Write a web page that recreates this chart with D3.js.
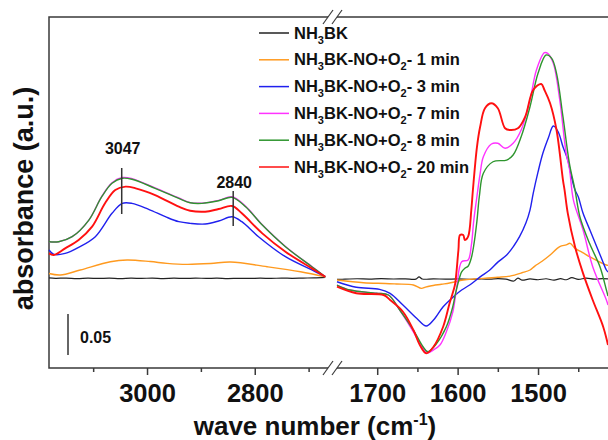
<!DOCTYPE html>
<html>
<head>
<meta charset="utf-8">
<script src="https://cdn.jsdelivr.net/npm/d3@7"></script>
<style>
  body { margin: 0; background: #fff; }
  text { font-family: "Liberation Sans", Arial, sans-serif; font-weight: bold; fill: #111; }
</style>
</head>
<body>
<div class="container"></div>
<script>
// data: [wave number, absorbance]
// ==============================
var seriesNames = ["NH3BK", "1 min", "3 min", "7 min", "8 min", "20 min"];
var seriesColors = ["#222222", "#ff9a1f", "#2020ee", "#ff33ff", "#2e952e", "#ff1010"];
var seriesWidths = [1.2, 1.4, 1.4, 1.4, 1.4, 1.9];

var blackLeft = [[3182,0.0008],[3170,0.0003],[3150,0.0006],[3130,-0.0002],[3110,0.0004],[3090,0.0001],[3070,0.0005],[3050,-0.0001],[3030,0.0004],[3010,0.0002],[2990,0.0005],[2970,0],[2950,0.0004],[2930,0.0001],[2910,0.0005],[2890,0.0002],[2870,0.0004],[2850,-0.0001],[2830,0.0003],[2810,0.0001],[2790,0.0004],[2770,0.0002],[2750,0.0005],[2730,0.0003],[2710,0.0006],[2690,0.0008],[2669,0.0015]];
var blackRight = [[1750,-0.001],[1740,-0.0008],[1725,-0.0003],[1710,-0.0007],[1695,-0.0002],[1680,-0.0006],[1665,-0.0004],[1652,-0.0008],[1648,0.002],[1644,-0.0006],[1630,-0.0004],[1615,-0.0008],[1600,-0.0005],[1585,-0.0009],[1570,-0.0004],[1560,-0.0008],[1550,-0.0002],[1540,-0.0007],[1530,-0.003],[1525,0.0005],[1520,-0.002],[1510,-0.0005],[1500,-0.0015],[1490,-0.0003],[1480,-0.002],[1472,-0.0002],[1465,-0.0015],[1458,0.001],[1450,-0.001],[1440,0.0005],[1430,-0.0008],[1420,0],[1413,-0.0005]];

var orangeLeft = [[3182,0.0061],[3161,0.0043],[3124,0.0104],[3068,0.0205],[3037,0.0226],[2994,0.0207],[2963,0.0185],[2926,0.0173],[2882,0.0183],[2845,0.0201],[2777,0.0144],[2715,0.0083],[2669,0.0022]];
var orangeRight = [[1750,-0.0018],[1717,-0.0051],[1690,-0.006],[1676,-0.0067],[1655,-0.0079],[1645,-0.012],[1640,-0.0105],[1634,-0.0091],[1620,-0.007],[1610,-0.0055],[1593,-0.0018],[1580,-0.0005],[1568,0.0002],[1550,0.0015],[1535,0.003],[1520,0.007],[1510,0.0104],[1504,0.0152],[1495,0.021],[1485,0.0287],[1473,0.0388],[1465,0.041],[1460,0.0429],[1454,0.0368],[1445,0.032],[1436,0.0266],[1425,0.021],[1415,0.0165],[1413,0.016]];

var blueLeft = [[3182,0.0348],[3173,0.0295],[3152,0.0307],[3127,0.038],[3096,0.051],[3065,0.0795],[3046,0.0917],[3028,0.0917],[2997,0.0844],[2966,0.0754],[2941,0.0693],[2920,0.0673],[2892,0.0665],[2867,0.0701],[2842,0.0754],[2824,0.0693],[2793,0.051],[2743,0.0266],[2694,0.0104],[2669,0.0022]];
var blueRight = [[1750,-0.0039],[1726,-0.0107],[1697,-0.0132],[1684,-0.018],[1668,-0.0323],[1651,-0.0485],[1639,-0.0579],[1630,-0.0506],[1618,-0.0344],[1605,-0.022],[1595,-0.014],[1585,-0.0079],[1572,0.002],[1560,0.0104],[1550,0.02],[1539,0.0287],[1530,0.04],[1523,0.051],[1515,0.068],[1510,0.0835],[1506,0.1039],[1500,0.13],[1494,0.1527],[1487,0.172],[1481,0.186],[1475,0.179],[1469,0.1607],[1463,0.1445],[1458,0.122],[1454,0.1079],[1450,0.0998],[1444,0.0795],[1435,0.058],[1427,0.0388],[1420,0.022],[1415,0.0104],[1413,0.008]];

var magentaLeft = [[3182,0.0449],[3164,0.0449],[3139,0.051],[3108,0.0713],[3084,0.1003],[3065,0.1168],[3046,0.1232],[3028,0.1218],[2985,0.1105],[2941,0.0982],[2920,0.0926],[2898,0.0919],[2867,0.0953],[2842,0.0997],[2817,0.088],[2786,0.0655],[2743,0.039],[2694,0.0145],[2669,0.0022]];
var magentaRight = [[1750,-0.0079],[1734,-0.014],[1701,-0.018],[1686,-0.0201],[1672,-0.0384],[1655,-0.065],[1643,-0.085],[1637,-0.0905],[1630,-0.087],[1622,-0.0811],[1614,-0.065],[1606,-0.041],[1601,-0.01],[1595,0.0205],[1587,0.0226],[1583,0.04],[1580,0.07],[1576,0.1],[1572,0.128],[1568,0.1485],[1558,0.164],[1550,0.1649],[1541,0.1588],[1531,0.1649],[1521,0.1811],[1510,0.2177],[1502,0.2543],[1492,0.2754],[1488,0.2746],[1481,0.2624],[1473,0.2177],[1465,0.1527],[1461,0.1344],[1456,0.0957],[1444,0.0591],[1432,0.0144],[1415,-0.0262],[1413,-0.0323]];

var greenLeft = [[3182,0.0449],[3164,0.0449],[3139,0.051],[3108,0.0713],[3084,0.0998],[3065,0.1161],[3046,0.1222],[3028,0.121],[2985,0.11],[2941,0.0978],[2920,0.0924],[2898,0.0917],[2867,0.0949],[2842,0.099],[2817,0.0876],[2786,0.0652],[2743,0.0388],[2694,0.0144],[2669,0.0022]];
var greenRight = [[1750,-0.0079],[1734,-0.014],[1701,-0.018],[1686,-0.0201],[1672,-0.0384],[1655,-0.0628],[1643,-0.0832],[1637,-0.0893],[1626,-0.079],[1614,-0.0588],[1606,-0.0344],[1603,-0.02],[1599,-0.004],[1595,0.008],[1591,0.0125],[1587,0.015],[1583,0.025],[1580,0.04],[1576,0.07],[1573,0.1],[1568,0.1283],[1556,0.1424],[1539,0.1445],[1531,0.1506],[1521,0.1729],[1510,0.2095],[1500,0.2502],[1490,0.2726],[1483,0.2685],[1477,0.2502],[1469,0.1973],[1461,0.1405],[1454,0.1079],[1448,0.0754],[1436,0.0429],[1423,0.0144],[1415,-0.014],[1413,-0.0213]];

var redLeft = [[3182,0.0307],[3173,0.0287],[3152,0.0368],[3127,0.047],[3102,0.0632],[3078,0.0917],[3059,0.1079],[3040,0.112],[3021,0.11],[2985,0.1018],[2941,0.0876],[2920,0.0827],[2892,0.0815],[2867,0.0848],[2842,0.0884],[2824,0.0795],[2786,0.0551],[2743,0.0327],[2694,0.0124],[2669,0.0022]];
var redRight = [[1750,-0.01],[1726,-0.018],[1692,-0.0201],[1684,-0.0262],[1668,-0.0405],[1655,-0.0628],[1647,-0.0811],[1639,-0.0912],[1630,-0.0832],[1618,-0.0588],[1610,-0.0302],[1605,-0.014],[1603,-0.0059],[1599,0.0348],[1597,0.053],[1593,0.053],[1591,0.047],[1587,0.051],[1583,0.0835],[1581,0.1079],[1576,0.16],[1572,0.185],[1566,0.2076],[1558,0.2137],[1550,0.2076],[1541,0.1832],[1535,0.1811],[1525,0.1832],[1516,0.1973],[1506,0.2299],[1496,0.2372],[1492,0.2299],[1485,0.2137],[1477,0.1811],[1469,0.1201],[1467,0.1079],[1463,0.0795],[1454,0.0388],[1444,0.0063],[1432,-0.0262],[1419,-0.0588],[1413,-0.0811]];

var leftSeries = [blackLeft, orangeLeft, blueLeft, magentaLeft, greenLeft, redLeft];
var rightSeries = [blackRight, orangeRight, blueRight, magentaRight, greenRight, redRight];

// ticks and peak labels
var leftMajor = [3000, 2800];
var leftMinor = [3100, 2900, 2700];
var rightMajor = [1700, 1600, 1500];
var rightMinor = [1650, 1550, 1450];
var peaks = [3047, 2840];

// svg container
var svgWidth = 608;
var svgHeight = 440;
var frame = { left: 49, top: 17, bottom: 368, right: 608, breakL: 328, breakR: 337 };

var svg = d3.select(".container")
  .append("svg")
  .attr("width", svgWidth)
  .attr("height", svgHeight);

// scales
// ==============================
var xLeft = d3.scaleLinear().domain([3182, 2664]).range([frame.left, frame.breakL]);
var xRight = d3.scaleLinear().domain([1750, 1413]).range([frame.breakR, frame.right]);
var yScale = d3.scaleLinear().domain([-0.1091, 0.3189]).range([frame.bottom, frame.top]);

// frame
// ==============================
var frameColor = "#3a3a3a";
var frameGroup = svg.append("g").attr("stroke", frameColor).attr("stroke-width", 1.5).attr("fill", "none");
frameGroup.append("path")
  .attr("d", `M${frame.breakL},${frame.top}H${frame.left}V${frame.bottom}H${frame.breakL}`);
frameGroup.append("path")
  .attr("d", `M${frame.breakR},${frame.top}H${frame.right + 2}M${frame.breakR},${frame.bottom}H${frame.right + 2}`);
[frame.top, frame.bottom].forEach(function(yy) {
  [frame.breakL, frame.breakR].forEach(function(xx) {
    frameGroup.append("line")
      .attr("x1", xx - 5).attr("y1", yy + 7)
      .attr("x2", xx + 5).attr("y2", yy - 7)
      .attr("stroke-width", 1.2);
  });
});

// axes
// ==============================
function drawAxis(scale, major, minor) {
  var g = svg.append("g").attr("transform", `translate(0, ${frame.bottom})`);
  g.call(d3.axisBottom(scale).tickValues(major).tickSize(7).tickFormat(d3.format("d")));
  g.call(function(a) { a.select(".domain").remove(); });
  g.selectAll("line").attr("stroke", frameColor).attr("stroke-width", 1.5);
  g.selectAll("text")
    .attr("y", 33.7).attr("dy", null)
    .style("font-size", "25.5px").style("font-weight", "bold")
    .attr("fill", "#111");
  var m = svg.append("g").attr("transform", `translate(0, ${frame.bottom})`);
  m.call(d3.axisBottom(scale).tickValues(minor).tickSize(4).tickFormat(""));
  m.select(".domain").remove();
  m.selectAll("line").attr("stroke", frameColor).attr("stroke-width", 1.5);
}
drawAxis(xLeft, leftMajor, leftMinor);
drawAxis(xRight, rightMajor, rightMinor);

// curves
// ==============================
var lineLeft = d3.line().x(d => xLeft(d[0])).y(d => yScale(d[1])).curve(d3.curveCatmullRom.alpha(0.5));
var lineRight = d3.line().x(d => xRight(d[0])).y(d => yScale(d[1])).curve(d3.curveCatmullRom.alpha(0.5));

leftSeries.forEach(function(s, i) {
  svg.append("path").datum(s)
    .attr("d", lineLeft)
    .attr("fill", "none")
    .attr("stroke", seriesColors[i])
    .attr("stroke-width", seriesWidths[i])
    .attr("stroke-linejoin", "round");
});
rightSeries.forEach(function(s, i) {
  svg.append("path").datum(s)
    .attr("d", lineRight)
    .attr("fill", "none")
    .attr("stroke", seriesColors[i])
    .attr("stroke-width", seriesWidths[i])
    .attr("stroke-linejoin", "round");
});

// peak markers
// ==============================
var peakTop = [0.1348, 0.1067];
var peakBottom = [0.0787, 0.064];
var peakText = [0.1518, 0.1104];
peaks.forEach(function(p, i) {
  svg.append("line")
    .attr("x1", xLeft(p)).attr("x2", xLeft(p))
    .attr("y1", yScale(peakTop[i])).attr("y2", yScale(peakBottom[i]))
    .attr("stroke", "#333").attr("stroke-width", 1.5);
  svg.append("text")
    .attr("x", xLeft(p) + 1)
    .attr("y", yScale(peakText[i]))
    .attr("text-anchor", "middle")
    .style("font-size", "16px")
    .text(p);
});

// scale bar 0.05
var barTop = yScale(-0.0433);
var barLen = yScale(0) - yScale(0.05);
svg.append("line")
  .attr("x1", 68).attr("x2", 68)
  .attr("y1", barTop).attr("y2", barTop + barLen)
  .attr("stroke", "#333").attr("stroke-width", 1.5);
svg.append("text")
  .attr("x", 80).attr("y", 343)
  .style("font-size", "16px")
  .text("0.05");

// legend
// ==============================
var legend = svg.append("g");
seriesNames.forEach(function(name, i) {
  var ly = 33 + i * 26.8;
  legend.append("line")
    .attr("x1", 259).attr("x2", 289)
    .attr("y1", ly).attr("y2", ly)
    .attr("stroke", seriesColors[i])
    .attr("stroke-width", 1.5);
  var t = legend.append("text")
    .attr("x", 294).attr("y", ly + 5.5)
    .style("font-size", "16.5px");
  t.append("tspan").text("NH");
  t.append("tspan").attr("dy", 5).style("font-size", "11px").text("3");
  if (i === 0) {
    t.append("tspan").attr("dy", -5).text("BK");
  } else {
    t.append("tspan").attr("dy", -5).text("BK-NO+O");
    t.append("tspan").attr("dy", 5).style("font-size", "11px").text("2");
    t.append("tspan").attr("dy", -5).text("- " + name);
  }
});

// axis titles
// ==============================
var xTitle = svg.append("text")
  .attr("x", 315).attr("y", 435)
  .attr("text-anchor", "middle")
  .style("font-size", "26px");
xTitle.append("tspan").text("wave number (cm");
xTitle.append("tspan").attr("dy", -10).style("font-size", "16px").text("-1");
xTitle.append("tspan").attr("dy", 10).text(")");

svg.append("text")
  .attr("transform", "translate(33, 198.5) rotate(-90)")
  .attr("text-anchor", "middle")
  .style("font-size", "27px")
  .text("absorbance (a.u.)");
</script>
</body>
</html>
